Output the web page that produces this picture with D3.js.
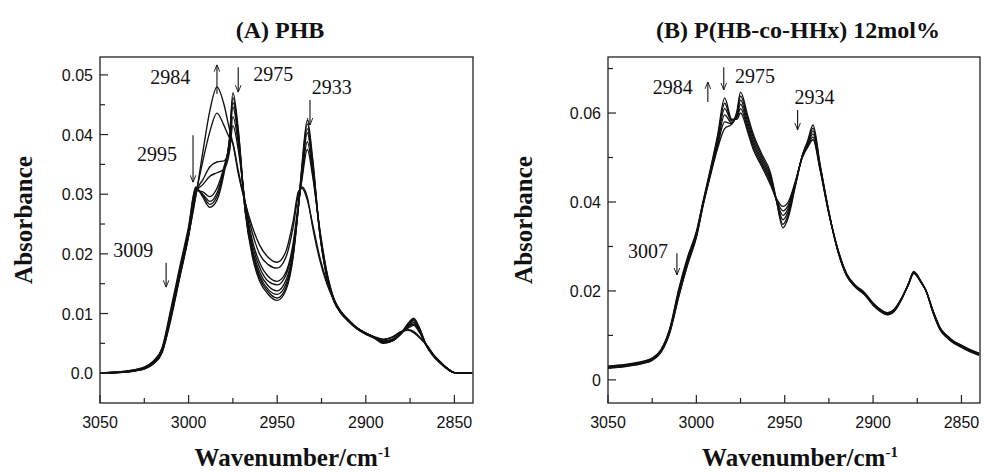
<!DOCTYPE html>
<html>
<head>
<meta charset="utf-8">
<script src="https://cdn.jsdelivr.net/npm/d3@7"></script>
<style>
  body { margin: 0; background: #fff; }
  svg { display: block; }
  .tick-lbl { font-family: "Liberation Sans", Arial, sans-serif; font-size: 16px; fill: #111; }
  .title { font-family: "Liberation Serif", "Times New Roman", serif; font-weight: bold; font-size: 24px; fill: #111; }
  .axis-lbl { font-family: "Liberation Serif", "Times New Roman", serif; font-weight: bold; font-size: 25px; fill: #111; }
  .note { font-family: "Liberation Serif", "Times New Roman", serif; font-size: 20px; fill: #111; }
</style>
</head>
<body>
<div id="chart"></div>
<script>
// absorbance values are in units of 1e-3

// (A) PHB
const wnA = [3050, 3040, 3030, 3025, 3020, 3015, 3010, 3005, 3000,
  2996, 2992, 2988, 2984, 2980, 2977, 2975, 2972, 2968, 2964, 2960, 2955, 2950, 2945, 2941, 2938, 2936, 2933, 2930, 2926,
  2922, 2918, 2914, 2910, 2905, 2900, 2895, 2890, 2885, 2880, 2876, 2873, 2870, 2866, 2862, 2858, 2854, 2850, 2840];

const phbC1 = [0, 0.2, 0.6, 1.0, 1.9, 4.2, 10.8, 17.8, 24.6,
  31.2, 29.5, 27.8, 29.0, 33.5, 39.0, 47.0, 41.0, 27.0, 19.5, 15.5, 13.2, 12.2, 14.0, 19.5, 28.0, 35.0, 42.4, 36.0, 23.5,
  16.0, 12.0, 10.0, 8.7, 7.4, 6.5, 5.8, 5.0, 5.4, 6.8, 8.4, 9.2, 7.8, 4.8, 3.0, 1.8, 0.8, 0.1, 0];
const phbC2 = [0, 0.2, 0.5, 0.9, 1.8, 4.0, 10.4, 17.4, 24.2,
  31.0, 29.8, 28.3, 29.6, 34.0, 39.0, 46.2, 40.5, 27.0, 20.0, 16.0, 13.6, 12.6, 14.4, 19.8, 28.0, 34.6, 41.8, 35.5, 23.5,
  16.2, 12.1, 10.1, 8.8, 7.5, 6.6, 5.9, 5.1, 5.4, 6.7, 8.2, 9.0, 7.7, 4.8, 3.0, 1.8, 0.8, 0.1, 0];
const phbC3 = [0, 0.1, 0.5, 0.8, 1.7, 3.8, 10.0, 17.0, 23.8,
  30.8, 30.0, 28.8, 30.2, 34.3, 38.8, 45.4, 40.0, 27.2, 20.3, 16.4, 14.0, 13.2, 15.0, 20.0, 28.0, 34.2, 41.0, 35.0, 23.6,
  16.3, 12.2, 10.2, 8.9, 7.5, 6.6, 5.9, 5.1, 5.4, 6.6, 8.0, 8.8, 7.5, 4.7, 3.0, 1.7, 0.7, 0.1, 0];
const phbC4 = [0, 0.1, 0.4, 0.8, 1.6, 3.6, 9.6, 16.6, 23.5,
  30.6, 30.4, 29.6, 31.0, 34.6, 38.5, 44.6, 39.5, 27.5, 20.8, 17.0, 14.6, 13.8, 15.6, 20.5, 28.0, 33.5, 40.3, 34.5, 23.8,
  16.5, 12.3, 10.2, 8.9, 7.6, 6.7, 6.0, 5.2, 5.5, 6.6, 7.9, 8.5, 7.3, 4.7, 2.9, 1.7, 0.7, 0.1, 0];
const phbI1 = [0, 0.1, 0.4, 0.7, 1.6, 3.5, 9.3, 16.3, 23.3,
  30.4, 31.6, 33.0, 33.6, 34.2, 37.0, 43.0, 38.6, 28.0, 21.5, 17.8, 15.4, 14.8, 16.5, 21.2, 28.2, 33.0, 38.8, 33.6, 24.0,
  16.8, 12.4, 10.3, 9.0, 7.6, 6.7, 6.0, 5.3, 5.6, 6.7, 7.8, 8.2, 7.1, 4.7, 2.9, 1.7, 0.7, 0.1, 0];
const phbI2 = [0, 0.1, 0.4, 0.7, 1.5, 3.4, 9.0, 16.0, 23.0,
  30.2, 32.4, 34.6, 35.4, 35.6, 37.2, 41.5, 37.5, 28.5, 22.2, 18.6, 16.2, 15.4, 17.0, 21.8, 28.5, 32.5, 37.5, 33.0, 24.2,
  17.0, 12.5, 10.3, 9.0, 7.6, 6.7, 6.0, 5.4, 5.7, 6.8, 7.6, 8.0, 7.0, 4.8, 3.0, 1.8, 0.8, 0.1, 0];
const phbM2 = [0, 0.2, 0.5, 0.9, 1.9, 3.9, 9.5, 16.2, 23.0,
  29.8, 35.5, 40.5, 43.6, 41.5, 39.5, 38.5, 34.0, 28.5, 23.5, 20.0, 18.2, 17.6, 19.5, 24.5, 30.0, 31.2, 29.5, 24.5, 19.0,
  15.0, 12.2, 10.2, 8.9, 7.5, 6.6, 6.0, 5.6, 6.0, 6.9, 7.3, 7.0, 6.2, 4.9, 3.2, 1.9, 0.8, 0.1, 0];
const phbM1 = [0, 0.2, 0.6, 1.0, 2.0, 4.1, 9.8, 16.5, 23.2,
  29.5, 37.0, 44.0, 48.0, 45.0, 41.0, 38.5, 33.5, 28.5, 24.5, 21.5, 19.4, 18.6, 20.5, 25.5, 30.5, 31.0, 29.0, 25.0, 19.5,
  15.4, 12.4, 10.3, 9.0, 7.6, 6.7, 6.1, 5.7, 6.1, 7.0, 7.2, 6.8, 6.0, 4.8, 3.2, 1.9, 0.8, 0.1, 0];

// (B) P(HB-co-HHx) 12mol%
const wnB = [3050, 3040, 3030, 3025, 3020, 3015, 3010, 3005, 3000,
  2996, 2992, 2988, 2984, 2980, 2977, 2975, 2971, 2968, 2963, 2958, 2955, 2951, 2948, 2944, 2940, 2937, 2934, 2930, 2925,
  2920, 2915, 2910, 2905, 2900, 2896, 2892, 2888, 2884, 2880, 2877, 2873, 2870, 2866, 2862, 2858, 2855, 2850, 2845, 2840];

const hhxB1 = [2.6, 3.0, 3.7, 4.4, 6.2, 10.6, 18.6, 25.8, 32.0,
  39.5, 46.0, 52.0, 56.5, 57.5, 60.5, 64.7, 59.5, 55.5, 50.8, 46.5, 41.0, 34.2, 36.5, 43.5, 50.5, 53.8, 57.3, 48.5, 37.8,
  29.0, 23.4, 20.8, 19.2, 16.8, 15.4, 14.6, 15.4, 18.0, 21.6, 24.4, 22.2, 20.0, 15.0, 11.2, 9.4, 8.4, 7.3, 6.3, 5.5];
const hhxB2 = [2.7, 3.1, 3.8, 4.5, 6.3, 10.8, 18.8, 26.0, 32.2,
  39.7, 46.3, 52.6, 58.0, 57.6, 60.2, 63.8, 58.8, 54.8, 50.2, 45.9, 40.9, 35.0, 37.2, 43.8, 50.5, 53.5, 56.6, 48.2, 37.7,
  29.1, 23.5, 20.9, 19.3, 16.9, 15.5, 14.7, 15.5, 18.1, 21.6, 24.3, 22.2, 20.0, 15.1, 11.3, 9.5, 8.5, 7.4, 6.4, 5.6];
const hhxB3 = [2.8, 3.2, 3.9, 4.6, 6.4, 11.0, 19.2, 26.4, 32.4,
  39.9, 46.6, 53.2, 59.6, 57.8, 59.8, 62.9, 58.0, 54.0, 49.6, 45.3, 40.8, 36.0, 37.9, 44.0, 50.4, 53.2, 56.0, 48.0, 37.6,
  29.2, 23.6, 21.0, 19.4, 17.0, 15.6, 14.8, 15.6, 18.1, 21.5, 24.2, 22.1, 20.0, 15.2, 11.4, 9.6, 8.6, 7.5, 6.5, 5.7];
const hhxB4 = [2.9, 3.3, 4.0, 4.7, 6.5, 11.2, 19.6, 26.8, 32.8,
  40.1, 46.9, 53.8, 61.0, 58.2, 59.4, 62.0, 57.2, 53.3, 49.0, 44.8, 40.8, 37.0, 38.6, 44.2, 50.3, 52.9, 55.3, 47.7, 37.5,
  29.3, 23.7, 21.1, 19.5, 17.1, 15.7, 14.9, 15.7, 18.2, 21.5, 24.1, 22.1, 20.0, 15.3, 11.5, 9.7, 8.7, 7.6, 6.6, 5.8];
const hhxB5 = [3.0, 3.4, 4.1, 4.8, 6.7, 11.4, 20.0, 27.2, 33.0,
  40.3, 47.2, 54.4, 62.2, 58.4, 59.0, 61.0, 56.5, 52.6, 48.5, 44.3, 40.9, 38.0, 39.3, 44.4, 50.2, 52.6, 54.6, 47.4, 37.4,
  29.4, 23.8, 21.2, 19.6, 17.2, 15.8, 15.0, 15.8, 18.2, 21.4, 24.0, 22.0, 20.0, 15.4, 11.6, 9.8, 8.8, 7.7, 6.7, 5.9];
const hhxB6 = [3.1, 3.5, 4.2, 4.9, 6.8, 11.6, 20.4, 27.6, 33.4,
  40.5, 47.5, 55.0, 63.4, 58.6, 58.6, 60.0, 55.8, 52.0, 48.0, 43.8, 41.0, 39.0, 40.0, 44.6, 50.0, 52.3, 54.0, 47.2, 37.3,
  29.5, 23.9, 21.3, 19.7, 17.3, 15.9, 15.1, 15.9, 18.3, 21.4, 23.9, 22.0, 20.0, 15.5, 11.7, 9.9, 8.9, 7.8, 6.8, 6.0];

// axis ticks
const xMajor = [3050, 3000, 2950, 2900, 2850];
const xMinor = [3025, 2975, 2925, 2875];
const yMajorA = [0, 10, 20, 30, 40, 50];
const yMinorA = [5, 15, 25, 35, 45];
const yLabelsA = ['0.0', '0.01', '0.02', '0.03', '0.04', '0.05'];
const yMajorB = [0, 20, 40, 60];
const yMinorB = [10, 30, 50, 70];
const yLabelsB = ['0', '0.02', '0.04', '0.06'];

// peak annotations: label, arrow wavenumber, arrow from/to (1e-3), label position
const notesA = [
  { text: '2984', wn: 2984, from: 46.8, to: 51.7, tx: 2999, ty: 48.4, anchor: 'end' },
  { text: '2975', wn: 2972, from: 51.3, to: 47.1, tx: 2963.5, ty: 49.0, anchor: 'start' },
  { text: '2933', wn: 2931.5, from: 45.8, to: 41.6, tx: 2930.5, ty: 46.8, anchor: 'start' },
  { text: '2995', wn: 2997.5, from: 39.9, to: 32.0, tx: 3006.5, ty: 35.6, anchor: 'end' },
  { text: '3009', wn: 3012.7, from: 18.5, to: 14.4, tx: 3020, ty: 19.5, anchor: 'end' },
];
const notesB = [
  { text: '2984', wn: 2993.5, from: 62.5, to: 67.0, tx: 3002, ty: 64.3, anchor: 'end' },
  { text: '2975', wn: 2984.5, from: 70.3, to: 65.2, tx: 2978.2, ty: 66.7, anchor: 'start' },
  { text: '2934', wn: 2942.7, from: 60.7, to: 56.2, tx: 2944.4, ty: 62.0, anchor: 'start' },
  { text: '3007', wn: 3011, from: 28.5, to: 23.6, tx: 3016, ty: 27.4, anchor: 'end' },
];

const panels = [
  {
    title: '(A) PHB', titleX: 280, left: 100, right: 473, wn: wnA,
    curves: [phbM1, phbM2, phbI2, phbI1, phbC4, phbC3, phbC2, phbC1],
    yDomain: [-5, 53], yMajor: yMajorA, yMinor: yMinorA, yLabels: yLabelsA, notes: notesA,
    ylabelX: 23,
  },
  {
    title: '(B) P(HB-co-HHx) 12mol%', titleX: 798, left: 608, right: 980, wn: wnB,
    curves: [hhxB6, hhxB5, hhxB4, hhxB3, hhxB2, hhxB1],
    yDomain: [-5.2, 72.6], yMajor: yMajorB, yMinor: yMinorB, yLabels: yLabelsB, notes: notesB,
    ylabelX: 523,
  },
];

const W = 984, H = 472;
const plotTop = 57, plotBottom = 403;

const svg = d3.select('#chart').append('svg').attr('width', W).attr('height', H);

const defs = svg.append('defs');
defs.append('marker')
  .attr('id', 'head')
  .attr('viewBox', '0 0 10 10')
  .attr('refX', 10).attr('refY', 5)
  .attr('markerWidth', 7).attr('markerHeight', 7)
  .attr('markerUnits', 'userSpaceOnUse')
  .attr('orient', 'auto')
  .append('path')
  .attr('d', 'M0,1 L10,5 L0,9')
  .attr('fill', 'none')
  .attr('stroke', '#111')
  .attr('stroke-width', 1.3);

panels.forEach((p, pi) => {
  const x = d3.scaleLinear().domain([3050, 2839.5]).range([p.left, p.right]);
  const y = d3.scaleLinear().domain(p.yDomain).range([plotBottom, plotTop]);
  const g = svg.append('g');

  // clip so curves stay inside the frame
  defs.append('clipPath').attr('id', 'clip' + pi)
    .append('rect').attr('x', p.left).attr('y', plotTop)
    .attr('width', p.right - p.left).attr('height', plotBottom - plotTop);

  const line = d3.line()
    .x((d, i) => x(p.wn[i]))
    .y((d) => y(d))
    .curve(d3.curveMonotoneX);

  g.append('g')
    .attr('clip-path', 'url(#clip' + pi + ')')
    .selectAll('path')
    .data(p.curves)
    .join('path')
    .attr('d', line)
    .attr('fill', 'none')
    .attr('stroke', '#111')
    .attr('stroke-width', 1.35)
    .attr('stroke-linejoin', 'round');

  // frame
  g.append('rect')
    .attr('x', p.left).attr('y', plotTop)
    .attr('width', p.right - p.left).attr('height', plotBottom - plotTop)
    .attr('fill', 'none').attr('stroke', '#222').attr('stroke-width', 1.3);

  // x ticks, pointing inward
  g.selectAll('.xmaj').data(xMajor).join('line')
    .attr('class', 'xmaj')
    .attr('x1', (d) => x(d)).attr('x2', (d) => x(d))
    .attr('y1', plotBottom).attr('y2', plotBottom - 8)
    .attr('stroke', '#222').attr('stroke-width', 1.2);
  g.selectAll('.xmin').data(xMinor).join('line')
    .attr('class', 'xmin')
    .attr('x1', (d) => x(d)).attr('x2', (d) => x(d))
    .attr('y1', plotBottom).attr('y2', plotBottom - 5)
    .attr('stroke', '#222').attr('stroke-width', 1.2);
  g.selectAll('.xlbl').data(xMajor).join('text')
    .attr('class', 'tick-lbl xlbl')
    .attr('x', (d) => x(d)).attr('y', plotBottom + 25)
    .attr('text-anchor', 'middle')
    .text((d) => d);

  // y ticks
  g.selectAll('.ymaj').data(p.yMajor).join('line')
    .attr('class', 'ymaj')
    .attr('x1', p.left).attr('x2', p.left + 8)
    .attr('y1', (d) => y(d)).attr('y2', (d) => y(d))
    .attr('stroke', '#222').attr('stroke-width', 1.2);
  g.selectAll('.ymin').data(p.yMinor).join('line')
    .attr('class', 'ymin')
    .attr('x1', p.left).attr('x2', p.left + 5)
    .attr('y1', (d) => y(d)).attr('y2', (d) => y(d))
    .attr('stroke', '#222').attr('stroke-width', 1.2);
  g.selectAll('.ylbl').data(p.yMajor).join('text')
    .attr('class', 'tick-lbl ylbl')
    .attr('x', p.left - 7).attr('y', (d) => y(d) + 6)
    .attr('text-anchor', 'end')
    .text((d, i) => p.yLabels[i]);

  // titles and axis labels
  g.append('text').attr('class', 'title')
    .attr('x', p.titleX).attr('y', 38)
    .attr('text-anchor', 'middle')
    .text(p.title);

  const xl = g.append('text').attr('class', 'axis-lbl')
    .attr('x', (p.left + p.right) / 2 + 6).attr('y', 466)
    .attr('text-anchor', 'middle');
  xl.append('tspan').text('Wavenumber/cm');
  xl.append('tspan').attr('dy', -9).attr('font-size', 15).text('-1');

  g.append('text').attr('class', 'axis-lbl')
    .attr('transform', 'translate(' + (p.ylabelX + 9) + ',' + 220 + ') rotate(-90)')
    .attr('text-anchor', 'middle')
    .text('Absorbance');

  // peak arrows + labels
  g.selectAll('.arrow').data(p.notes).join('line')
    .attr('class', 'arrow')
    .attr('x1', (d) => x(d.wn)).attr('x2', (d) => x(d.wn))
    .attr('y1', (d) => y(d.from)).attr('y2', (d) => y(d.to))
    .attr('stroke', '#111').attr('stroke-width', 1.1)
    .attr('marker-end', 'url(#head)');
  g.selectAll('.note').data(p.notes).join('text')
    .attr('class', 'note')
    .attr('x', (d) => x(d.tx)).attr('y', (d) => y(d.ty))
    .attr('text-anchor', (d) => d.anchor)
    .text((d) => d.text);
});
</script>
</body>
</html>
